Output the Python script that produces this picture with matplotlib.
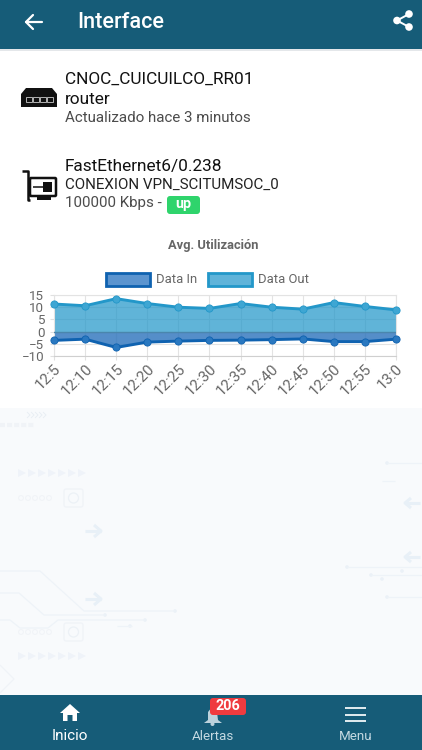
import matplotlib
matplotlib.use('Agg')
import matplotlib.pyplot as plt
from matplotlib.patches import Rectangle, FancyBboxPatch, Circle, Polygon

plt.rcParams['font.family'] = ['Roboto', 'DejaVu Sans']

times = ['12:5', '12:10', '12:15', '12:20', '12:25', '12:30', '12:35', '12:40', '12:45', '12:50', '12:55', '13:0']
data_in = [-3.6, -3.1, -6.5, -4.3, -3.9, -3.6, -3.5, -3.3, -3.0, -4.1, -4.1, -3.1]
data_out = [11.3, 10.6, 13.5, 11.5, 10.0, 9.5, 11.5, 10.0, 9.2, 11.9, 10.3, 8.9]
y_ticks = [-10, -5, 0, 5, 10, 15]

BAR = '#165c78'
W, H = 422, 750
IN_COL = '#0f62b0'
OUT_COL = '#2397c9'

fig = plt.figure(figsize=(W / 100, H / 100), dpi=100, facecolor='white')

# whole page in pixel coordinates for the app chrome
ui = fig.add_axes([0, 0, 1, 1], zorder=0)
ui.set_xlim(0, W)
ui.set_ylim(H, 0)
ui.axis('off')


def line(xs, ys, color='#eef3f8', lw=0.9, **kw):
    ui.plot(xs, ys, color=color, lw=lw, solid_capstyle=kw.pop('cap', 'butt'), **kw)


# page background with the faint circuit pattern
ui.add_patch(Rectangle((0, 408), W, 287, fc='#f8fafc', ec='none'))
for path in [([0, 40, 84, 175], [571, 571, 611, 611]),
             ([0, 19, 44, 105], [593, 593, 615, 615]),
             ([0, 10, 20, 48, 58, 145], [620, 620, 628, 628, 620, 620]),
             ([387, 422], [463, 463]), ([347, 422], [567, 567]),
             ([371, 422], [575, 575]), ([387, 422], [597, 597]),
             ([382, 395], [481, 481]), ([117, 132], [626, 626])]:
    line(path[0], path[1])
for px, py in [(175, 611), (105, 615), (145, 620), (387, 463), (347, 567), (371, 575), (387, 597), (402, 571), (130, 626), (382, 579)]:
    ui.add_patch(Circle((px, py), 1.8, fc='#ebf1f7', ec='none'))
for row_y in [473, 656]:
    for k in range(7):
        x0 = 18 + k * 10
        ui.add_patch(Polygon([(x0, row_y - 4), (x0 + 8, row_y), (x0, row_y + 4)], fc='#eff3f9', ec='none'))
for row_y in [498, 632]:
    ui.add_patch(FancyBboxPatch((66, row_y - 7), 15, 14, boxstyle='round,pad=2', fc='none', ec='#f0f3f7', lw=0.9))
    ui.add_patch(Circle((73.5, row_y), 5, fc='none', ec='#ecf1f6', lw=0.9))
    for k in range(5):
        ui.add_patch(Circle((21 + k * 7, row_y), 2.4, fc='none', ec='#f0f3f7', lw=0.7))
for ay_ in [531, 599]:
    line([85, 101], [ay_, ay_], color='#e8f0f7', lw=2.2)
    line([94, 101, 94], [ay_ - 6, ay_, ay_ + 6], color='#e8f0f7', lw=2.2)
for ay_ in [503, 557]:
    line([405, 420], [ay_, ay_], color='#e8f0f7', lw=2.2)
    line([411, 405, 411], [ay_ - 5, ay_, ay_ + 5], color='#e8f0f7', lw=2.2)
line([0, 34], [425, 425], color='#f0f3f7', lw=3, ls=(0, (1.2, 0.5)))
for k in range(5):
    line([27 + k * 4, 30 + k * 4, 27 + k * 4], [412, 415, 418], color='#e9eef4', lw=0.7)
line([0, 14, 0], [665, 679, 693], color='#f0f3f7', lw=0.9)

# top bar
ui.add_patch(Rectangle((0, 0), W, 49, fc=BAR, ec='none'))
ui.add_patch(Rectangle((0, 49), W, 2, fc='#e4e7ea', ec='none'))
line([26, 42], [22, 22], color='white', lw=1.6, cap='round')
line([33, 26, 33], [15, 22, 29], color='white', lw=1.6, cap='round')
ui.text(77.5, 22, 'Interface', color='white', fontsize=15.6, fontweight='medium', va='center')
line([409, 397, 409], [14, 20.5, 27], color='white', lw=1.4)
for px, py in [(409, 14), (397, 20.5), (409, 27)]:
    ui.add_patch(Circle((px, py), 3.8, fc='white', ec='none'))

# device block
ui.text(65, 79, 'CNOC_CUICUILCO_RR01', color='#111111', fontsize=12.4, va='center')
ui.text(65, 100, 'router', color='#111111', fontsize=12.4, va='center')
ui.text(65, 118.5, 'Actualizado hace 3 minutos', color='#4c4c4c', fontsize=10.9, va='center')
ui.add_patch(Polygon([(26, 88), (52, 88), (57, 94), (57, 107), (21, 107), (21, 94)], fc='#111111', ec='none'))
for px in [26, 33, 40, 47]:
    ui.add_patch(Rectangle((px, 97), 5.5, 5, fc='none', ec='#cccccc', lw=0.6))

# interface block
ui.text(65, 166, 'FastEthernet6/0.238', color='#111111', fontsize=12.4, va='center')
ui.text(65, 185, 'CONEXION VPN_SCITUMSOC_0', color='#222222', fontsize=10.9, va='center')
ui.text(65, 203.5, '100000 Kbps -', color='#4c4c4c', fontsize=10.9, va='center')
ui.add_patch(FancyBboxPatch((170, 199), 27, 12, boxstyle='round,pad=3', fc='#2fd46c', ec='none'))
ui.text(183.5, 204, 'up', color='white', fontsize=10.4, fontweight='bold', ha='center', va='center')
line([22, 28, 28, 30], [171, 171, 200, 200], color='#111111', lw=1.8)
ui.add_patch(FancyBboxPatch((31, 179), 24, 16, boxstyle='round,pad=1', fc='white', ec='#111111', lw=1.8))
ui.add_patch(Rectangle((43, 182), 9, 10, fc='#111111', ec='none'))
line([33, 43], [187, 187], color='#111111', lw=1.1)
ui.add_patch(Rectangle((37, 196), 14, 4, fc='#111111', ec='none'))

# bottom bar
ui.add_patch(Rectangle((0, 695), W, 55, fc=BAR, ec='none'))
ui.add_patch(Polygon([(70, 704), (80, 713), (77, 713), (77, 721), (72.5, 721), (72.5, 715), (67.5, 715), (67.5, 721), (63, 721), (63, 713), (60, 713)], fc='white', ec='none'))
ui.text(70, 736, 'Inicio', color='white', fontsize=11, ha='center', va='center')
ui.add_patch(Polygon([(212, 707), (217, 712), (218, 720), (222, 723), (204, 723), (208, 720), (208, 712)], fc='#bcd2dc', ec='none'))
ui.add_patch(Circle((212.5, 724), 2, fc='#bcd2dc', ec='none'))
ui.add_patch(FancyBboxPatch((213, 701), 30, 11, boxstyle='round,pad=3', fc='#ef3b3f', ec='none'))
ui.text(228, 706.5, '206', color='white', fontsize=10.4, fontweight='bold', ha='center', va='center')
ui.text(212.5, 737, 'Alertas', color='#c4d9e2', fontsize=9.6, ha='center', va='center')
for py in [708, 714.5, 721]:
    line([345, 366], [py, py], color='#e3edf1', lw=1.4)
ui.text(355.5, 737, 'Menu', color='#c4d9e2', fontsize=9.6, ha='center', va='center')

# chart, placed by its pixel box
left, right, top, bottom = 54, 396, 295, 356
ax = fig.add_axes([left / W, 1 - bottom / H, (right - left) / W, (bottom - top) / H], zorder=2)
ax.patch.set_alpha(0)
x = range(len(times))
ax.fill_between(x, data_out, 0, color=OUT_COL, alpha=0.72, lw=0, zorder=2)
ax.fill_between(x, data_in, 0, color='#2f75bd', alpha=0.82, lw=0, zorder=2)
ax.axhline(0, color='#4a86ad', lw=1, zorder=3)
ax.plot(x, data_out, color=OUT_COL, lw=2.1, marker='o', ms=5.2, mfc='#3ea6d3', mec=OUT_COL, mew=0.6, clip_on=False, zorder=4)
ax.plot(x, data_in, color=IN_COL, lw=2.1, marker='o', ms=5.2, mfc='#2a78c0', mec=IN_COL, mew=0.6, clip_on=False, zorder=4)
ax.set_xlim(0, len(times) - 1)
ax.set_ylim(-10, 15)
ax.set_yticks(y_ticks)
ax.set_xticks(list(x))
ax.set_xticklabels(times, rotation=45, ha='right', rotation_mode='anchor')
ax.grid(True, color='#e3e3e3', lw=0.8, zorder=0)
ax.set_axisbelow(True)
ax.tick_params(axis='x', colors='#e0e0e0', labelcolor='#666666', labelsize=10.8, length=3, width=0.8, pad=1)
ax.tick_params(axis='y', colors='#e0e0e0', labelcolor='#666666', labelsize=9.6, length=3, width=0.8, pad=4)
for s in ax.spines.values():
    s.set_color('#e3e3e3')
    s.set_linewidth(0.8)
ax.spines['bottom'].set_color('#cfcfcf')

# chart title and legend in page pixels
ui.text(213, 246, 'Avg. Utilización', color='#666666', fontsize=9.3, fontweight='bold', ha='center', va='center')
ui.add_patch(Rectangle((105.5, 273), 44, 13, fc='#5b94cf', ec=IN_COL, lw=2))
ui.text(156.5, 279.5, 'Data In', color='#666666', fontsize=9.4, va='center')
ui.add_patch(Rectangle((207.5, 273), 44, 13, fc='#5fb3d9', ec=OUT_COL, lw=2))
ui.text(258.5, 279.5, 'Data Out', color='#666666', fontsize=9.4, va='center')

fig.savefig('out.png', dpi=100)
